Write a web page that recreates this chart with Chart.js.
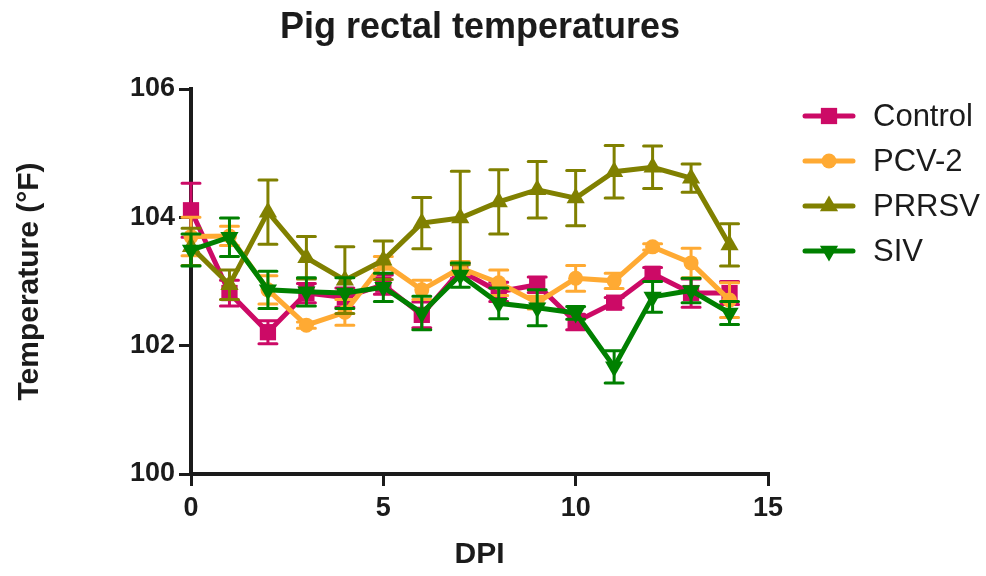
<!DOCTYPE html>
<html>
<head>
<meta charset="utf-8">
<script src="https://cdn.jsdelivr.net/npm/chart.js@4/dist/chart.umd.min.js"></script>
<style>
  html, body { margin: 0; padding: 0; background: #fff; }
  #wrap { width: 986px; height: 576px; }
</style>
</head>
<body>
<div id="wrap"><canvas id="tempChart" width="986" height="576"></canvas></div>
<script>
// Jours post-infection
const days = [0, 1, 2, 3, 4, 5, 6, 7, 8, 9, 10, 11, 12, 13, 14];

// Moyennes (°F) et barres d'erreur
const control    = [104.11, 102.82, 102.21, 102.82, 102.75, 102.95, 102.48, 103.17, 102.84, 102.95, 102.37, 102.67, 103.12, 102.82, 102.82];
const controlErr = [0.42, 0.20, 0.18, 0.15, 0.15, 0.15, 0.20, 0.12, 0.15, 0.12, 0.12, 0.08, 0.10, 0.22, 0.18];
const pcv2       = [103.70, 103.71, 102.87, 102.32, 102.52, 103.29, 102.87, 103.21, 102.98, 102.67, 103.05, 103.01, 103.54, 103.29, 102.71];
const pcv2Err    = [0.30, 0.15, 0.22, 0.05, 0.20, 0.10, 0.15, 0.10, 0.20, 0.10, 0.20, 0.12, 0.05, 0.23, 0.27];
const prrsv      = [103.54, 102.95, 104.08, 103.37, 103.02, 103.33, 103.91, 103.99, 104.24, 104.43, 104.30, 104.71, 104.78, 104.61, 103.57];
const prrsvErr   = [0.29, 0.23, 0.50, 0.33, 0.52, 0.30, 0.40, 0.73, 0.50, 0.44, 0.43, 0.41, 0.33, 0.22, 0.33];
const siv        = [103.49, 103.69, 102.87, 102.84, 102.82, 102.91, 102.51, 103.10, 102.66, 102.59, 102.51, 101.67, 102.76, 102.86, 102.51];
const sivErr     = [0.25, 0.30, 0.29, 0.22, 0.24, 0.22, 0.26, 0.19, 0.24, 0.28, 0.10, 0.25, 0.24, 0.19, 0.18];

const seriesNames = ['Control', 'PCV-2', 'PRRSV', 'SIV'];
const xTicks = [0, 5, 10, 15];
const yTicks = [100, 102, 104, 106];

const FONT = '"Liberation Sans", Arial, sans-serif';
const INK = '#1b1b1b';

function pts(values) {
    return values.map((v, i) => ({ x: days[i], y: v }));
}

// Style de chaque série
const styles = [
    { color: '#cc0a66', pointStyle: 'rect', radius: 11.5, rotation: 0 },
    { color: '#ffaa33', pointStyle: 'circle', radius: 7.5, rotation: 0 },
    { color: '#808000', pointStyle: 'triangle', radius: 10.5, rotation: 0 },
    { color: '#008000', pointStyle: 'triangle', radius: 10.5, rotation: 180 }
];
const allValues = [control, pcv2, prrsv, siv];
const allErrors = [controlErr, pcv2Err, prrsvErr, sivErr];

const datasets = allValues.map((vals, k) => ({
    label: seriesNames[k],
    data: pts(vals),
    errors: allErrors[k],
    borderColor: styles[k].color,
    backgroundColor: styles[k].color,
    pointBackgroundColor: styles[k].color,
    pointBorderWidth: 0,
    pointStyle: styles[k].pointStyle,
    pointRadius: styles[k].radius,
    pointRotation: styles[k].rotation,
    pointHoverRadius: styles[k].radius,
    borderWidth: 5,
    tension: 0,
    clip: false,
    order: 3 - k
}));

// Barres d'erreur dessinées avant chaque série
const errorBars = {
    id: 'errorBars',
    beforeDatasetDraw(chart, args) {
        const ds = chart.data.datasets[args.index];
        const meta = args.meta;
        const y = chart.scales.y;
        const ctx = chart.ctx;
        ctx.save();
        ctx.strokeStyle = ds.borderColor;
        ctx.lineWidth = 3;
        ctx.lineCap = 'round';
        meta.data.forEach((pt, i) => {
            const v = ds.data[i].y;
            const e = ds.errors[i];
            const top = y.getPixelForValue(v + e);
            const bot = y.getPixelForValue(v - e);
            ctx.beginPath();
            ctx.moveTo(pt.x, top);
            ctx.lineTo(pt.x, bot);
            ctx.moveTo(pt.x - 9, top);
            ctx.lineTo(pt.x + 9, top);
            ctx.moveTo(pt.x - 9, bot);
            ctx.lineTo(pt.x + 9, bot);
            ctx.stroke();
        });
        ctx.restore();
    }
};

// Titres et légende
const decorations = {
    id: 'decorations',
    afterDraw(chart) {
        const ctx = chart.ctx;
        const area = chart.chartArea;
        ctx.save();
        ctx.fillStyle = INK;
        ctx.textAlign = 'center';
        ctx.textBaseline = 'alphabetic';
        ctx.font = 'bold 36px ' + FONT;
        ctx.fillText('Pig rectal temperatures', 480, 38);

        ctx.font = 'bold 30px ' + FONT;
        ctx.fillText('DPI', (area.left + area.right) / 2, 563);

        ctx.save();
        ctx.translate(38, (area.top + area.bottom) / 2);
        ctx.rotate(-Math.PI / 2);
        ctx.font = 'bold 30px ' + FONT;
        ctx.fillText('Temperature (\u00B0F)', 0, 0);
        ctx.restore();

        // Légende
        const lx = area.right + 37;
        ctx.textAlign = 'left';
        ctx.textBaseline = 'middle';
        ctx.font = '31px ' + FONT;
        seriesNames.forEach((name, k) => {
            const yy = area.top + 27 + k * 45;
            ctx.strokeStyle = styles[k].color;
            ctx.lineWidth = 5;
            ctx.lineCap = 'round';
            ctx.beginPath();
            ctx.moveTo(lx, yy);
            ctx.lineTo(lx + 48, yy);
            ctx.stroke();
            ctx.fillStyle = styles[k].color;
            Chart.helpers.drawPoint(ctx, {
                pointStyle: styles[k].pointStyle,
                radius: styles[k].radius,
                rotation: styles[k].rotation,
                borderWidth: 0
            }, lx + 24, yy);
            ctx.fillStyle = INK;
            ctx.fillText(name, lx + 68, yy + 1);
        });
        ctx.restore();
    }
};

const ctx = document.getElementById('tempChart').getContext('2d');
new Chart(ctx, {
    type: 'line',
    data: { datasets: datasets },
    options: {
        responsive: false,
        animation: false,
        layout: { padding: { top: 89, right: 218, bottom: 0, left: 0 } },
        plugins: {
            legend: { display: false },
            title: { display: false },
            tooltip: { enabled: false }
        },
        scales: {
            x: {
                type: 'linear',
                min: 0,
                max: 15,
                afterFit: s => { s.height = 102; },
                afterBuildTicks: s => { s.ticks = xTicks.map(v => ({ value: v })); },
                border: { display: true, color: INK, width: 4 },
                grid: { display: true, drawOnChartArea: false, color: INK, lineWidth: 3, tickLength: 12 },
                ticks: { color: INK, font: { family: FONT, size: 27, weight: 'bold' }, padding: 6, maxRotation: 0 }
            },
            y: {
                type: 'linear',
                min: 100,
                max: 106,
                afterFit: s => { s.width = 191; },
                afterBuildTicks: s => { s.ticks = yTicks.map(v => ({ value: v })); },
                border: { display: true, color: INK, width: 4 },
                grid: { display: true, drawOnChartArea: false, color: INK, lineWidth: 3, tickLength: 12 },
                ticks: { color: INK, font: { family: FONT, size: 27, weight: 'bold' }, padding: 4 }
            }
        }
    },
    plugins: [errorBars, decorations]
});
</script>
</body>
</html>
